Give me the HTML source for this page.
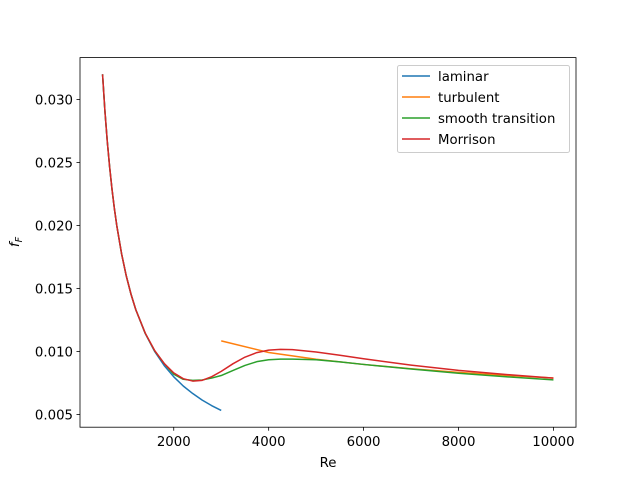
<!DOCTYPE html>
<html><head><meta charset="utf-8"><style>
body{margin:0;background:#fff}
svg{font-family:"DejaVu Sans","Liberation Sans",sans-serif}
</style></head><body>
<svg id="c" width="640" height="480" xmlns="http://www.w3.org/2000/svg">
<rect width="640" height="480" fill="#fff"/>
</svg>
<script>
const lamRe=[500,550,600,650,700,750,800,900,1000,1100,1200,1400,1600,1800,2000,2200,2400,2600,2800,3000];
const lamF=[0.032,0.02909,0.02667,0.02462,0.02286,0.02133,0.02,0.01778,0.016,0.01455,0.01333,0.01143,0.01,0.00889,0.008,0.00727,0.00667,0.00615,0.00571,0.00533];
const turbRe=[3000,4000,5000,6000,7000,8000,9000,10000];
const turbF=[0.01085,0.00993,0.00939,0.00898,0.00864,0.00835,0.00811,0.0079];
const smRe=[500,550,600,650,700,750,800,900,1000,1100,1200,1400,1600,1800,2000,2200,2400,2600,2800,3000,3250,3500,3750,4000,4250,4500,5000,5500,6000,7000,8000,9000,10000];
const smF=[0.032,0.02909,0.02667,0.02462,0.02286,0.02133,0.02,0.01778,0.016,0.01455,0.01333,0.01145,0.01005,0.00905,0.0082,0.0078,0.00772,0.00775,0.0079,0.0081,0.0085,0.0089,0.0092,0.00935,0.0094,0.0094,0.00935,0.00918,0.00898,0.00862,0.00828,0.008,0.00776];
const moRe=[500,550,600,650,700,750,800,900,1000,1100,1200,1400,1600,1800,2000,2200,2400,2600,2800,3000,3250,3500,3750,4000,4250,4500,5000,5500,6000,7000,8000,9000,10000];
const moF=[0.032,0.02909,0.02667,0.02462,0.02286,0.02133,0.02,0.01778,0.016,0.01455,0.01333,0.01146,0.01007,0.00905,0.00831,0.00785,0.00766,0.00772,0.00801,0.00843,0.00904,0.00956,0.00992,0.01012,0.01018,0.01016,0.00997,0.00971,0.00943,0.00893,0.00851,0.00818,0.00789];
const xTicks=[2000,4000,6000,8000,10000];
const yTicks=[0.005,0.010,0.015,0.020,0.025,0.030];
const yTickLabels=["0.005","0.010","0.015","0.020","0.025","0.030"];
const L=80,R=576,T=57.6,B=427.2,xmin=25,xmax=10475,ymin=0.004,ymax=0.03333;
const X=v=>L+(v-xmin)/(xmax-xmin)*(R-L);
const Y=v=>B-(v-ymin)/(ymax-ymin)*(B-T);
const svg=document.getElementById('c');
const NS='http://www.w3.org/2000/svg';
function mk(t,a){const e=document.createElementNS(NS,t);for(const k in a)e.setAttribute(k,a[k]);svg.appendChild(e);return e;}
const series=[[lamRe,lamF,'#1f77b4','laminar-line'],[turbRe,turbF,'#ff7f0e','turbulent-line'],[smRe,smF,'#2ca02c','smooth-transition-line'],[moRe,moF,'#d62728','morrison-line']];
series.forEach(s=>{
  const p=mk('polyline',{points:s[0].map((r,i)=>X(r).toFixed(2)+','+Y(s[1][i]).toFixed(2)).join(' '),fill:'none',stroke:s[2],'stroke-width':1.5,'stroke-linejoin':'round'});
  
  
});
const fr=mk('rect',{x:L,y:T,width:R-L,height:B-T,fill:'none',stroke:'#000','stroke-width':0.8});


xTicks.forEach(v=>{
  mk('line',{x1:X(v),x2:X(v),y1:B,y2:B+3.5,stroke:'#000','stroke-width':0.8});
  const t=mk('text',{x:X(v),y:B+19,'text-anchor':'middle','font-size':13.3,fill:'#000'});t.textContent=v;
  
  
});
yTicks.forEach((v,i)=>{
  mk('line',{x1:L-3.5,x2:L,y1:Y(v),y2:Y(v),stroke:'#000','stroke-width':0.8});
  const t=mk('text',{x:L-7,y:Y(v)+5,'text-anchor':'end','font-size':13.3,fill:'#000'});t.textContent=yTickLabels[i];
  
  
});
const xt=mk('text',{x:328,y:467,'text-anchor':'middle','font-size':13.3});xt.textContent='Re';


const yt=mk('text',{transform:'translate(19,242) rotate(-90)','text-anchor':'middle','font-size':13.3,'font-style':'italic'});
yt.innerHTML='f<tspan font-size="9.5" dy="3">F</tspan>';


const lg=mk('rect',{x:397.5,y:65.5,width:172,height:87,fill:'#fff',stroke:'#ccc',rx:2});


const names=['laminar','turbulent','smooth transition','Morrison'];
series.forEach((s,i)=>{
  const y=76+i*21;
  mk('line',{x1:402,x2:430,y1:y,y2:y,stroke:s[2],'stroke-width':1.5});
  const t=mk('text',{x:438,y:y+5,'font-size':13.3});t.textContent=names[i];
  
  
});
</script>
</body></html>
